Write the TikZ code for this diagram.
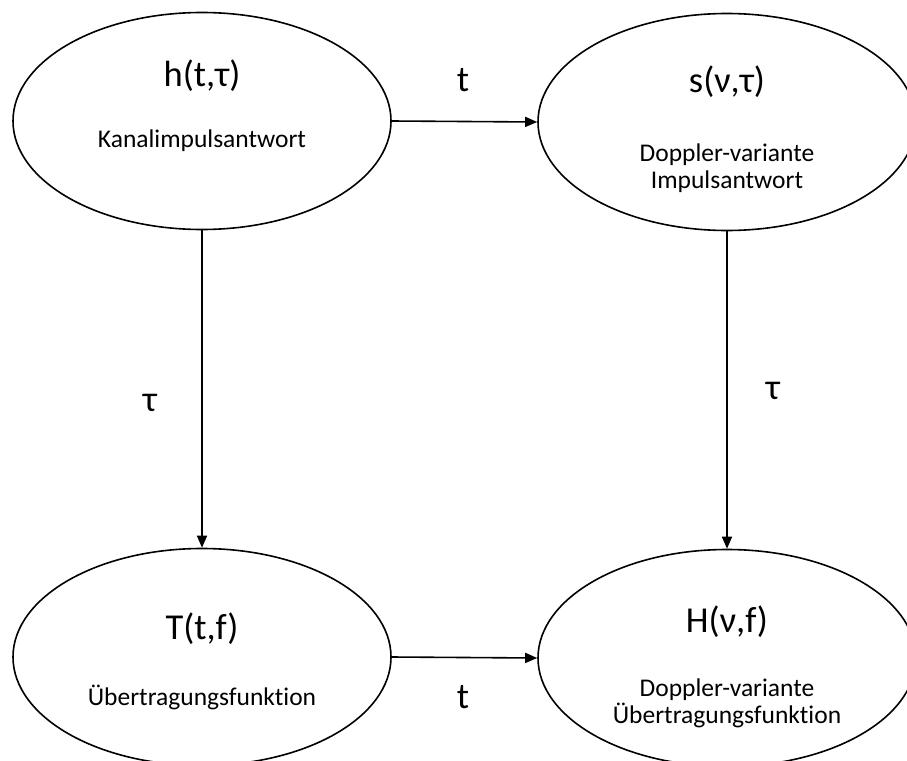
\documentclass[tikz,border=0pt]{standalone}
\usepackage{fontspec}
\setmainfont[Ligatures=NoCommon]{Carlito}
\usetikzlibrary{shapes.geometric,arrows.meta}
\begin{document}
\begin{tikzpicture}[x=1pt,y=-1pt,
  ell/.style={draw,line width=1.6pt,ellipse,minimum width=378pt,minimum height=217pt,inner sep=0pt},
  ttl/.style={font=\fontsize{36.5}{40}\selectfont,inner sep=0pt},
  sub/.style={font=\fontsize{25.5}{27}\selectfont,align=center,inner sep=0pt},
  lbl/.style={font=\fontsize{36.5}{40}\selectfont,inner sep=0pt},
  arr/.style={line width=1.6pt,-{Triangle[length=12pt,width=10pt]}}]
\clip (0,0) rectangle (907,760);
\fill[white] (0,0) rectangle (907,760);
\node[ell] (tl) at (202,121) {};
\node[ell] (tr) at (727,122) {};
\node[ell] (bl) at (202,657) {};
\node[ell] (br) at (727,658) {};
\node[ttl] (tlt) at (202,76) {h(t,τ)};
\node[sub] (tls) at (202,141) {Kanalimpulsantwort};
\node[ttl] (trt) at (727,82) {s(ν,τ)};
\node[sub] (trs) at (727,168) {Doppler-variante\\Impulsantwort};
\node[ttl] (blt) at (202,629) {T(t,f)};
\node[sub] (bls) at (202,697) {Übertragungsfunktion};
\node[ttl] (brt) at (727,622) {H(ν,f)};
\node[sub] (brs) at (727,703) {Doppler-variante\\Übertragungsfunktion};
\draw[arr] (tl.east) -- (tr.west);
\draw[arr] (bl.east) -- (br.west);
\draw[arr] (tl.south) -- (bl.north);
\draw[arr] (tr.south) -- (br.north);
\node[lbl] (l1) at (463,80) {t};
\node[lbl] (l2) at (463,697) {t};
\node[lbl] (l3) at (150,403) {τ};
\node[lbl] (l4) at (773,391) {τ};
\end{tikzpicture}
\end{document}
